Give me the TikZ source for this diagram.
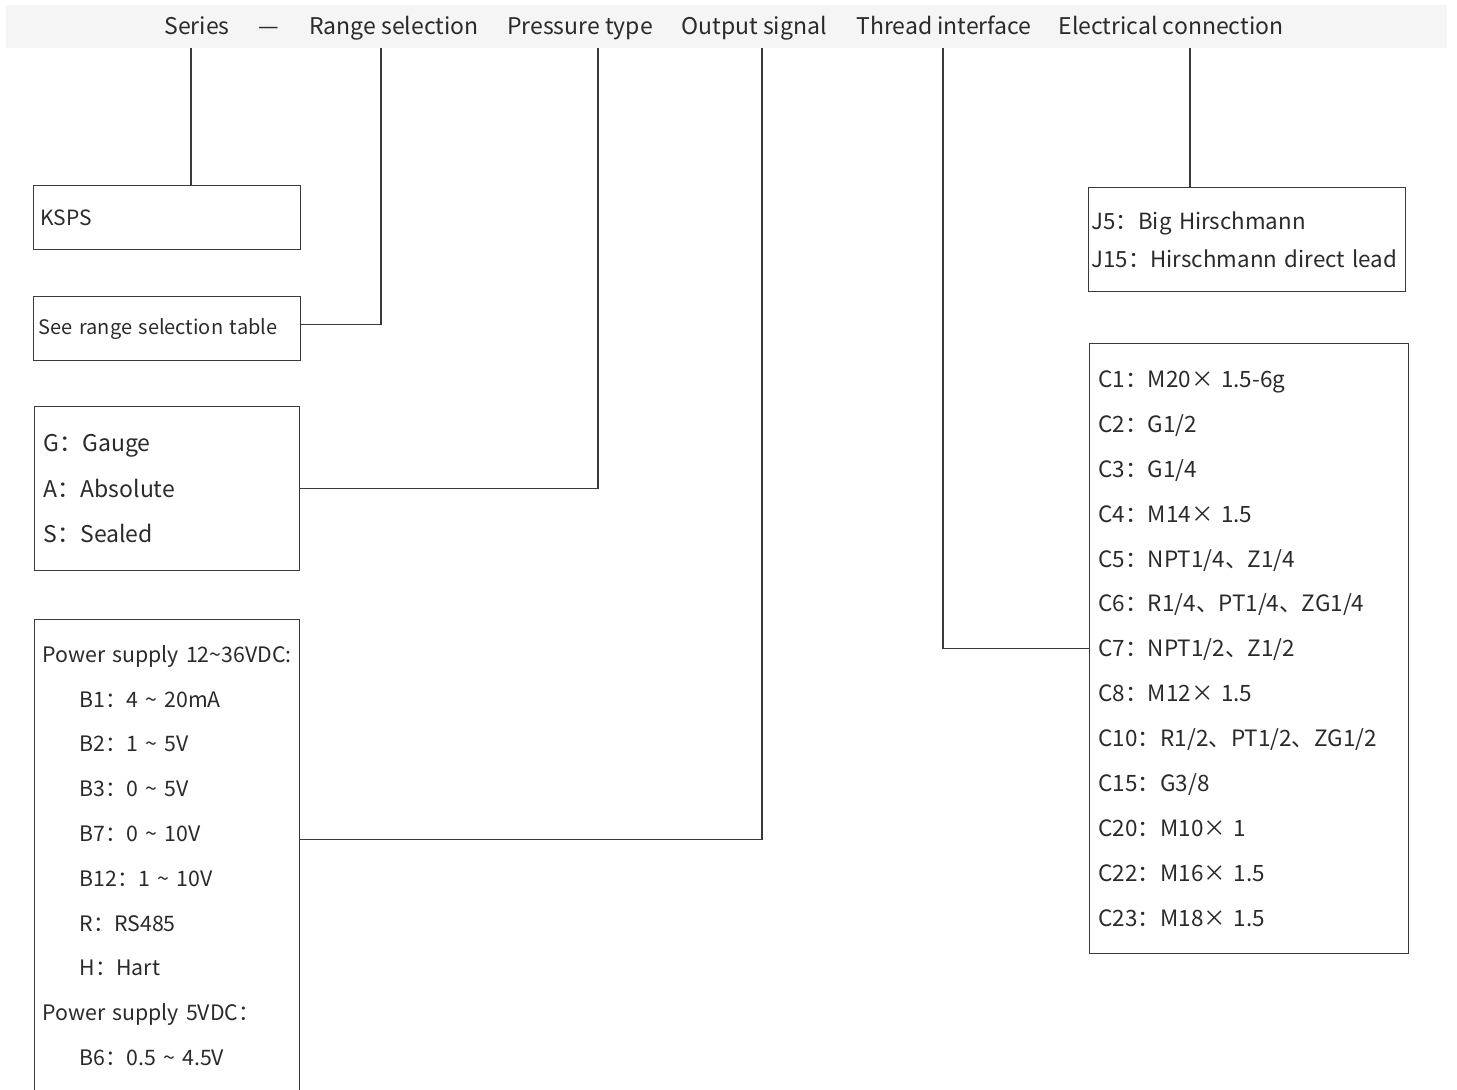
\documentclass[tikz,border=0pt]{standalone}
\usepackage{fontspec}
\setmainfont{Noto Sans CJK SC}
\usetikzlibrary{calc}
\definecolor{linegray}{HTML}{3A3A3A}
\definecolor{bandgray}{HTML}{F5F5F5}
\definecolor{textgray}{HTML}{2A2A2A}
\tikzset{
  box/.style={draw=linegray, line width=1.2pt, anchor=north west, align=left, inner ysep=0pt, text=textgray},
  link/.style={draw=linegray, line width=1.2pt},
  head/.style={anchor=base, inner sep=0pt, text=textgray, font=\fontsize{23}{28}\selectfont},
}
\begin{document}
\begin{tikzpicture}[x=1pt, y=-1pt]
    \useasboundingbox (0,0) rectangle (1457,1090);

    %header band
    \fill[bandgray] (6,5) rectangle (1447,48);

    % Header texts
    \node[head] (h-series) at (197,34) {Series};
    \node[head] (h-dash) at (269,34) {—};
    \node[head] (h-range) at (394,34) {Range selection};
    \node[head] (h-press) at (580,34) {Pressure type};
    \node[head] (h-output) at (754,34) {Output signal};
    \node[head] (h-thread) at (944,34) {Thread interface};
    \node[head] (h-elec) at (1171,34) {Electrical connection};

    % Line starts under the band
    \coordinate (t-series) at (191,48);
    \coordinate (t-range) at (381,48);
    \coordinate (t-press) at (598,48);
    \coordinate (t-output) at (762,48);
    \coordinate (t-thread) at (943,48);
    \coordinate (t-elec) at (1190,48);

    % Boxes
    \node[box, text width=253pt, inner xsep=7pt, minimum height=64pt,
          font=\fontsize{21}{26}\selectfont] (ksps) at (33,185) {KSPS};
    \node[box, text width=257pt, inner xsep=5pt, minimum height=64pt,
          font=\fontsize{20}{26}\selectfont] (range) at (33,296) {See range selection table};
    \node[box, text width=247pt, inner xsep=9pt, minimum height=164pt,
          font=\fontsize{23}{45.5}\selectfont] (press) at (34,406)
          {G：Gauge\\A：Absolute\\S：Sealed};
    \node[box, text width=249pt, inner xsep=8pt, minimum height=472pt,
          font=\fontsize{21.3}{44.8}\selectfont] (output) at (34,619)
          {Power supply 12\textasciitilde36VDC:\\
           \hspace*{37pt}B1：4 \textasciitilde{} 20mA\\
           \hspace*{37pt}B2：1 \textasciitilde{} 5V\\
           \hspace*{37pt}B3：0 \textasciitilde{} 5V\\
           \hspace*{37pt}B7：0 \textasciitilde{} 10V\\
           \hspace*{37pt}B12：1 \textasciitilde{} 10V\\
           \hspace*{37pt}R：RS485\\
           \hspace*{37pt}H：Hart\\
           Power supply 5VDC：\\
           \hspace*{37pt}B6：0.5 \textasciitilde{} 4.5V};
    \node[box, text width=311pt, inner xsep=3pt, minimum height=104pt,
          font=\fontsize{22.3}{38}\selectfont] (elec) at (1088,187)
          {J5：Big Hirschmann\\J15：Hirschmann direct lead};
    \node[box, text width=301pt, inner xsep=9pt, minimum height=610pt,
          font=\fontsize{22.5}{44.9}\selectfont] (thread) at (1089,343)
          {C1：M20× 1.5-6g\\
           C2：G1/2\\
           C3：G1/4\\
           C4：M14× 1.5\\
           C5：NPT1/4、Z1/4\\
           C6：R1/4、PT1/4、ZG1/4\\
           C7：NPT1/2、Z1/2\\
           C8：M12× 1.5\\
           C10：R1/2、PT1/2、ZG1/2\\
           C15：G3/8\\
           C20：M10× 1\\
           C22：M16× 1.5\\
           C23：M18× 1.5};

    % Lines
    \draw[link] (t-series) -- (t-series |- ksps.north);
    \draw[link] (t-range) |- ([yshift=4pt]range.east);
    \draw[link] (t-press) |- (press.east);
    \draw[link] (t-output) |- ([yshift=16pt]output.east);
    \draw[link] (t-thread) |- (thread.west);
    \draw[link] (t-elec) -- (t-elec |- elec.north);

\end{tikzpicture}
\end{document}
